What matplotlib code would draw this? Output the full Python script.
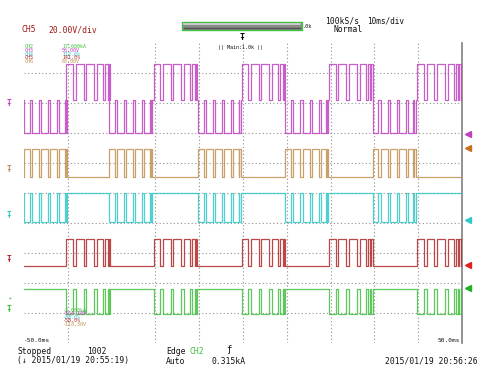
"""Scope capture recreation: 5-channel PWM traces, 10 ms/div."""
import matplotlib
matplotlib.use('Agg')
import matplotlib.pyplot as plt
from matplotlib.patches import Rectangle
import numpy as np

W, H = 500, 383

# time axis (ms) and grid
T_MIN, T_MAX = -50.0, 50.0
VGRID = [-40, -20, -10, 0, 10, 20, 30, 40]
HGRID = [1, 2, 3, 4, 5, 6, 7, 8, 9]

# half-cycle burst starts (ms)
POS_BURSTS = [-40.3, -20.4, -0.3, 19.7, 39.8]
NEG_BURSTS = [-50.0, -30.6, -10.3, 9.7, 29.6]

# pulse pattern inside a burst (ms from burst start)
POS_PULSES = [(0.0, 1.5), (2.1, 3.9), (4.5, 6.3), (6.9, 8.3), (8.8, 9.4), (9.6, 9.9)]
NEG_PULSES = [(0.0, 1.3), (1.8, 3.4), (3.9, 5.5), (6.0, 7.6), (8.1, 9.3), (9.5, 9.8)]

# trace levels (divisions from bottom)
PURPLE = {'base': 8.1, 'hi': 9.3, 'lo': 7.0}
ORANGE = {'idle': 5.53, 'active': 6.47}
CYAN = {'idle': 5.0, 'active': 4.03}
RED = {'idle': 2.57, 'active': 3.47}
GREEN = {'idle': 1.8, 'active': 0.97}

# right-hand ground markers (divisions)
MARK_LEVELS = [6.97, 6.5, 4.1, 2.6, 1.83]

C_PURPLE = '#c040c0'
C_ORANGE = '#c09050'
C_CYAN = '#30c8c8'
C_RED = '#b02828'
C_GREEN = '#40c040'
C_TEXT = '#101010'
C_DARKRED = '#a01818'

CH_LABELS = ['CH2', 'CH3', 'CH4', 'CH5', 'CH6']
CH_TOP = ['17.600kA', '56.00V', '112.0%', '141.0%', '63.00V']
CH_BOT = ['-3.000kA', '-564.30V', '-88.0%', '-58.0%', '-118.30V']
CH_COLORS = [C_GREEN, C_PURPLE, C_CYAN, C_RED, C_ORANGE]


def segments(bursts, pulses, level):
    return [(b + s, b + e, level) for b in bursts for s, e in pulses]


def build_trace(segs, idle):
    t, y = [T_MIN], [idle]
    for s, e, lev in sorted(segs):
        s, e = max(s, T_MIN), min(e, T_MAX)
        t += [s, s, e, e]
        y += [idle, lev, lev, idle]
    t.append(T_MAX)
    y.append(idle)
    return np.array(t), np.array(y)


def main():
    plt.rcParams['font.family'] = ['DejaVu Sans Mono', 'DejaVu Sans']
    fig = plt.figure(figsize=(W / 100, H / 100), dpi=100)
    ax = fig.add_axes([24 / W, 1 - 343 / H, 438 / W, 300 / H])
    ax.set_xlim(T_MIN, T_MAX)
    ax.set_ylim(0, 10)
    for side in ['left', 'top', 'bottom']:
        ax.spines[side].set_visible(False)
    ax.spines['right'].set_color('#808080')
    ax.spines['right'].set_linewidth(1.2)
    ax.set_xticks([])
    ax.set_yticks([])

    for x in VGRID:
        ax.axvline(x, color='#909090', lw=0.8, ls=(0, (1, 2.2)), zorder=1)
    for y in HGRID:
        ax.axhline(y, color='#909090', lw=0.8, ls=(0, (1, 2.2)), zorder=1)

    traces = [
        (segments(POS_BURSTS, POS_PULSES, PURPLE['hi'])
         + segments(NEG_BURSTS, NEG_PULSES, PURPLE['lo']), PURPLE['base'], C_PURPLE),
        (segments(NEG_BURSTS, NEG_PULSES, ORANGE['active']), ORANGE['idle'], C_ORANGE),
        (segments(NEG_BURSTS, NEG_PULSES, CYAN['active']), CYAN['idle'], C_CYAN),
        (segments(POS_BURSTS, POS_PULSES, RED['active']), RED['idle'], C_RED),
        (segments(POS_BURSTS, POS_PULSES, GREEN['active']), GREEN['idle'], C_GREEN),
    ]
    for segs, idle, color in traces:
        t, y = build_trace(segs, idle)
        ax.plot(t, y, color=color, lw=0.9, alpha=0.85, zorder=3)

    mark_colors = [C_PURPLE, '#c87020', C_CYAN, '#e02020', '#20b020']
    for lev, col in zip(MARK_LEVELS, mark_colors):
        ax.plot([51.3], [lev], marker='<', ms=5, color=col, clip_on=False, zorder=4)

    def ftext(x, y, s, **kw):
        kw.setdefault('va', 'center')
        kw.setdefault('color', C_TEXT)
        fig.text(x / W, 1 - y / H, s, **kw)

    # left channel markers
    for y, col in zip([103, 169, 215, 260, 309], [C_PURPLE, C_ORANGE, C_CYAN, C_RED, C_GREEN]):
        ftext(7, y, 'Ŧ', color=col, fontsize=5.5, fontweight='bold')
    ftext(8, 299, '▸', color=C_GREEN, fontsize=4)

    # header
    ftext(21, 30, 'CH5', color=C_DARKRED, fontsize=5.8)
    ftext(48, 30, '20.00V/div', color=C_DARKRED, fontsize=5.8)
    ftext(325, 21, '100kS/s', fontsize=5.8)
    ftext(367, 21, '10ms/div', fontsize=5.6)
    ftext(333, 30, 'Normal', fontsize=5.8)
    fig.patches.append(Rectangle((182 / W, 1 - 29.5 / H), 120 / W, 7.5 / H,
                                 transform=fig.transFigure, facecolor='#8a8a8a',
                                 edgecolor='#40c040', lw=1.0))
    fig.lines.append(plt.Line2D([184 / W, 300 / W], [1 - 24 / H] * 2,
                                transform=fig.transFigure, color='#d8d8d8', lw=1.2))
    fig.lines.append(plt.Line2D([184 / W, 300 / W], [1 - 27.5 / H] * 2,
                                transform=fig.transFigure, color='#505050', lw=1.0))
    ftext(303, 26, '.0k', fontsize=3.8)
    ftext(242, 37, 'Ŧ', fontsize=6, fontweight='bold', ha='center')
    ftext(241, 47, '(( Main:1.0k ))', fontsize=3.6, ha='center')

    for i, (lab, top, bot, col) in enumerate(zip(CH_LABELS, CH_TOP, CH_BOT, CH_COLORS)):
        ftext(25, 47 + i * 3.6, lab, color=col, fontsize=3.6)
        ftext(62, 47 + i * 3.6, top, color=col, fontsize=3.6)
        ftext(62, 310 + i * 3.6, bot, color=col, fontsize=3.6)

    ftext(24, 341, '-50.0ms', fontsize=4.4)
    ftext(460, 341, '50.0ms', fontsize=4.4, ha='right')

    # footer
    ftext(18, 351, 'Stopped', fontsize=5.8)
    ftext(87, 351, '1002', fontsize=5.8)
    ftext(17, 361, '(↓ 2015/01/19 20:55:19)', fontsize=5.8)
    ftext(166, 351, 'Edge', fontsize=5.8)
    ftext(189, 351, 'CH2', fontsize=5.8, color=C_GREEN)
    ftext(226, 350, 'ƒ', fontsize=6.5)
    ftext(166, 361, 'Auto', fontsize=5.8)
    ftext(212, 361, '0.315kA', fontsize=5.8)
    ftext(385, 361, '2015/01/19 20:56:26', fontsize=5.8)

    fig.savefig('out.png', dpi=100, facecolor='white')
    plt.close(fig)


if __name__ == '__main__':
    main()
